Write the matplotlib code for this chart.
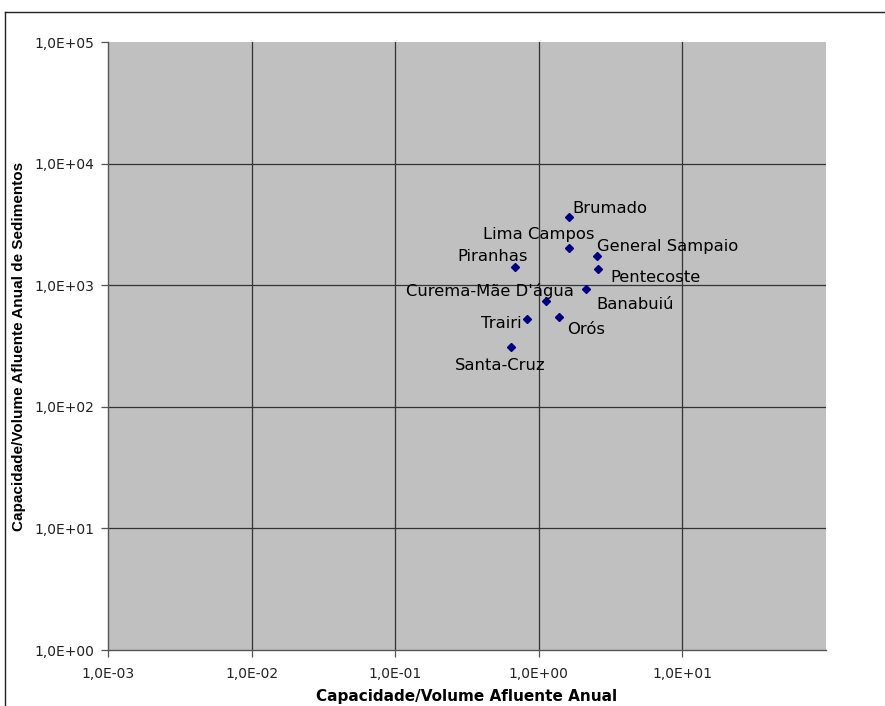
import matplotlib
matplotlib.use("Agg")
import matplotlib.pyplot as plt
from matplotlib.lines import Line2D
from matplotlib.ticker import FixedLocator, FuncFormatter, NullLocator

# Reservoir data
names = [
    "Brumado",
    "Lima Campos",
    "General Sampaio",
    "Pentecoste",
    "Piranhas",
    "Banabuiú",
    "Curema-Mãe D'água",
    "Orós",
    "Trairi",
    "Santa-Cruz",
]
cap_afluente = [1.62, 1.63, 2.56, 2.60, 0.684, 2.13, 1.13, 1.38, 0.822, 0.636]
cap_sedimentos = [3615, 2010, 1740, 1370, 1400, 930, 740, 550, 527, 312]

x_ticks = [1e-3, 1e-2, 1e-1, 1e0, 1e1]
y_ticks = [1e0, 1e1, 1e2, 1e3, 1e4, 1e5]

# label placement (offset in pixels, horizontal alignment)
label_pos = {
    "Brumado": (3, 9, "left"),
    "Lima Campos": (-31, 14, "center"),
    "General Sampaio": (0, 9, "left"),
    "Pentecoste": (12, -9, "left"),
    "Piranhas": (-22, 11, "center"),
    "Banabuiú": (10, -15, "left"),
    "Curema-Mãe D'água": (-56, 10, "center"),
    "Orós": (27, -13, "center"),
    "Trairi": (-5, -4, "right"),
    "Santa-Cruz": (-10, -19, "center"),
}

W, H = 885, 706
fig = plt.figure(figsize=(W / 100, H / 100), dpi=100)
ax = fig.add_axes((108 / W, 56 / H, 718 / W, 608 / H))
ax.set_facecolor("#C0C0C0")

ax.set_xscale("log")
ax.set_yscale("log")
ax.set_xlim(1e-3, 1e2)
ax.set_ylim(1e0, 1e5)

ax.xaxis.set_major_locator(FixedLocator(x_ticks))
ax.yaxis.set_major_locator(FixedLocator(y_ticks))
ax.xaxis.set_minor_locator(NullLocator())
ax.yaxis.set_minor_locator(NullLocator())
fmt = FuncFormatter(lambda v, pos: f"{v:.1E}".replace(".", ","))
ax.xaxis.set_major_formatter(fmt)
ax.yaxis.set_major_formatter(fmt)

# grid lines inside the plot area
for xv in x_ticks[1:]:
    ax.axvline(xv, color="#333333", lw=0.9, zorder=1)
for yv in y_ticks[1:-1]:
    ax.axhline(yv, color="#333333", lw=0.9, zorder=1)

for side in ("top", "right"):
    ax.spines[side].set_visible(False)
for side in ("left", "bottom"):
    ax.spines[side].set_color("#555555")
    ax.spines[side].set_linewidth(1.0)

ax.tick_params(axis="both", which="major", direction="out", length=5,
               width=0.9, color="#555555", labelsize=10, labelcolor="#222222")
ax.tick_params(axis="y", pad=5)
ax.tick_params(axis="x", pad=7)

ax.plot(cap_afluente, cap_sedimentos, linestyle="none", marker="D",
        markersize=4.5, color="#000080", zorder=3)

for name, xv, yv in zip(names, cap_afluente, cap_sedimentos):
    dx, dy, ha = label_pos[name]
    ax.annotate(name, (xv, yv), xytext=(dx, dy), textcoords="offset pixels",
                ha=ha, va="center", fontsize=11.8, color="black", zorder=4)

ax.set_xlabel("Capacidade/Volume Afluente Anual", fontsize=11,
              fontweight="bold", labelpad=6)
ax.set_ylabel("Capacidade/Volume Afluente Anual de Sedimentos", fontsize=11,
              fontweight="bold", labelpad=6, family="Liberation Sans")

# chart border (partly cropped in the original)
fx = 5 / W
fy = 1 - 12 / H
fig.add_artist(Line2D([fx, fx], [0, fy], transform=fig.transFigure,
                      color="#222222", lw=1.0))
fig.add_artist(Line2D([fx, 1], [fy, fy], transform=fig.transFigure,
                      color="#222222", lw=1.0))

fig.savefig("out.png", dpi=100)
